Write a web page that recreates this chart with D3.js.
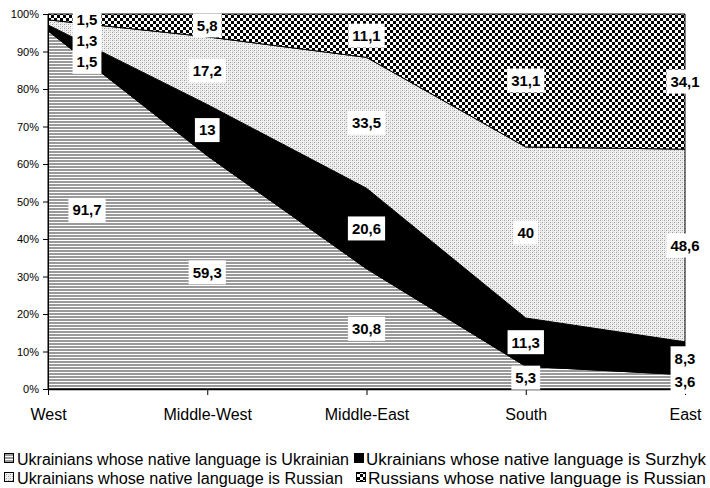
<!DOCTYPE html>
<html>
<head>
<meta charset="utf-8">
<script src="https://cdn.jsdelivr.net/npm/d3@7"></script>
<style>
  body { margin: 0; background: #fff; }
  svg text { font-family: "Liberation Sans", Arial, sans-serif; fill: #000; }
</style>
</head>
<body>
<svg id="chart" width="710" height="488"></svg>
<script>
// data (each region sums to ~100 minus "other", chart is normalised)
const categories = ["West", "Middle-West", "Middle-East", "South", "East"];
const seriesNames = [
  "Ukrainians whose native language is Ukrainian",
  "Ukrainians whose native language is Surzhyk",
  "Ukrainians whose native language is Russian",
  "Russians whose native language is Russian"
];
const ukrUkr     = [91.7, 59.3, 30.8, 5.3, 3.6];
const ukrSurzhyk = [1.5, 13, 20.6, 11.3, 8.3];
const ukrRus     = [1.3, 17.2, 33.5, 40, 48.6];
const rusRus     = [1.5, 5.8, 11.1, 31.1, 34.1];
const yTickValues = [0, 0.1, 0.2, 0.3, 0.4, 0.5, 0.6, 0.7, 0.8, 0.9, 1];

// labels that were dragged by hand in the original (series index - category index)
const labelNudge = {
  "0-0": { dx: 39, dy: 0 },
  "1-0": { dx: 39, dy: 34 },
  "2-0": { dx: 39, dy: 18 },
  "3-0": { dx: 39, dy: 3 }
};

const svg = d3.select("#chart");
const plot = { left: 48, right: 685, top: 14, bottom: 389 };

// Patterns
const defs = svg.append("defs");

const stripes = defs.append("pattern").attr("id", "p0")
  .attr("patternUnits", "userSpaceOnUse").attr("width", 4).attr("height", 3);
stripes.append("rect").attr("width", 4).attr("height", 3).attr("fill", "#fff");
stripes.append("rect").attr("y", 1).attr("width", 4).attr("height", 2).attr("fill", "#999");

const dots = defs.append("pattern").attr("id", "p2")
  .attr("patternUnits", "userSpaceOnUse").attr("width", 4).attr("height", 4);
dots.append("rect").attr("width", 4).attr("height", 4).attr("fill", "#f2f2f2");
[[0, 0, "#9a9a9a"], [2, 2, "#9a9a9a"], [2, 0, "#cfcfcf"], [0, 2, "#cfcfcf"], [1, 3, "#dcdcdc"]].forEach(([px, py, c]) => {
  dots.append("rect").attr("x", px).attr("y", py).attr("width", 1).attr("height", 1).attr("fill", c);
});

const checker = defs.append("pattern").attr("id", "p3")
  .attr("patternUnits", "userSpaceOnUse").attr("width", 6).attr("height", 6);
checker.append("rect").attr("width", 6).attr("height", 6).attr("fill", "#fff");
checker.append("rect").attr("width", 3).attr("height", 3).attr("fill", "#000");
checker.append("rect").attr("x", 3).attr("y", 3).attr("width", 3).attr("height", 3).attr("fill", "#000");

const fills = ["url(#p0)", "#000", "url(#p2)", "url(#p3)"];

// Scales
const x = d3.scalePoint().domain(categories).range([plot.left, plot.right]);
const y = d3.scaleLinear().domain([0, 1]).range([plot.bottom, plot.top]);

const rows = categories.map((c, i) => ({
  cat: c, s0: ukrUkr[i], s1: ukrSurzhyk[i], s2: ukrRus[i], s3: rusRus[i]
}));
const keys = ["s0", "s1", "s2", "s3"];
const stacked = d3.stack().keys(keys).offset(d3.stackOffsetExpand)(rows);

const area = d3.area()
  .x(d => x(d.data.cat))
  .y0(d => y(d[0]))
  .y1(d => y(d[1]));

svg.append("g").selectAll("path")
  .data(stacked)
  .enter()
  .append("path")
  .attr("d", area)
  .attr("fill", (d, i) => fills[i])
  .attr("stroke", "#000")
  .attr("stroke-width", 1);

// Axes
const yAxis = d3.axisLeft(y).tickValues(yTickValues).tickFormat(d3.format(".0%")).tickSize(5).tickPadding(4);
const yg = svg.append("g").attr("transform", `translate(${plot.left},0)`).call(yAxis);
yg.select(".domain").attr("stroke", "#000");
yg.selectAll("text").attr("font-size", 11);

const xAxis = d3.axisBottom(x).tickSize(6).tickPadding(14).tickSizeOuter(0);
const xg = svg.append("g").attr("transform", `translate(0,${plot.bottom})`).call(xAxis);
xg.select(".domain").attr("stroke", "#000").attr("stroke-width", 1.5);
xg.selectAll("text").attr("font-size", 16);

// Data labels
const fmt = v => String(v).replace(".", ",");
stacked.forEach((layer, si) => {
  layer.forEach((d, ci) => {
    const nudge = labelNudge[si + "-" + ci] || { dx: 0, dy: 0 };
    const lx = x(d.data.cat) + nudge.dx;
    const ly = y((d[0] + d[1]) / 2) + nudge.dy;
    const lg = svg.append("g").attr("transform", `translate(${lx},${ly})`);
    const t = lg.append("text")
      .attr("text-anchor", "middle")
      .attr("dy", "0.36em")
      .attr("font-size", 15)
      .attr("font-weight", "bold")
      .text(fmt(d.data[keys[si]]));
    const bb = t.node().getBBox();
    lg.insert("rect", "text")
      .attr("x", bb.x - 4).attr("y", -12)
      .attr("width", bb.width + 8).attr("height", 24)
      .attr("fill", "#fff");
  });
});

// Legend (text spans measured on the picture)
const legendItems = [
  { i: 0, x: 4, y: 459, tx: 17, tw: 332 },
  { i: 1, x: 354, y: 459, tx: 366, tw: 340 },
  { i: 2, x: 4, y: 478, tx: 17, tw: 326 },
  { i: 3, x: 356, y: 478, tx: 368, tw: 338 }
];
const lgd = svg.append("g");
legendItems.forEach(it => {
  lgd.append("rect")
    .attr("x", it.x + 0.5).attr("y", it.y - 5.5)
    .attr("width", 9).attr("height", 9)
    .attr("fill", fills[it.i])
    .attr("stroke", "#000");
  lgd.append("text")
    .attr("x", it.tx).attr("y", it.y)
    .attr("dy", "0.35em")
    .attr("font-size", 16)
    .attr("textLength", it.tw)
    .attr("lengthAdjust", "spacingAndGlyphs")
    .text(seriesNames[it.i]);
});
</script>
</body>
</html>
